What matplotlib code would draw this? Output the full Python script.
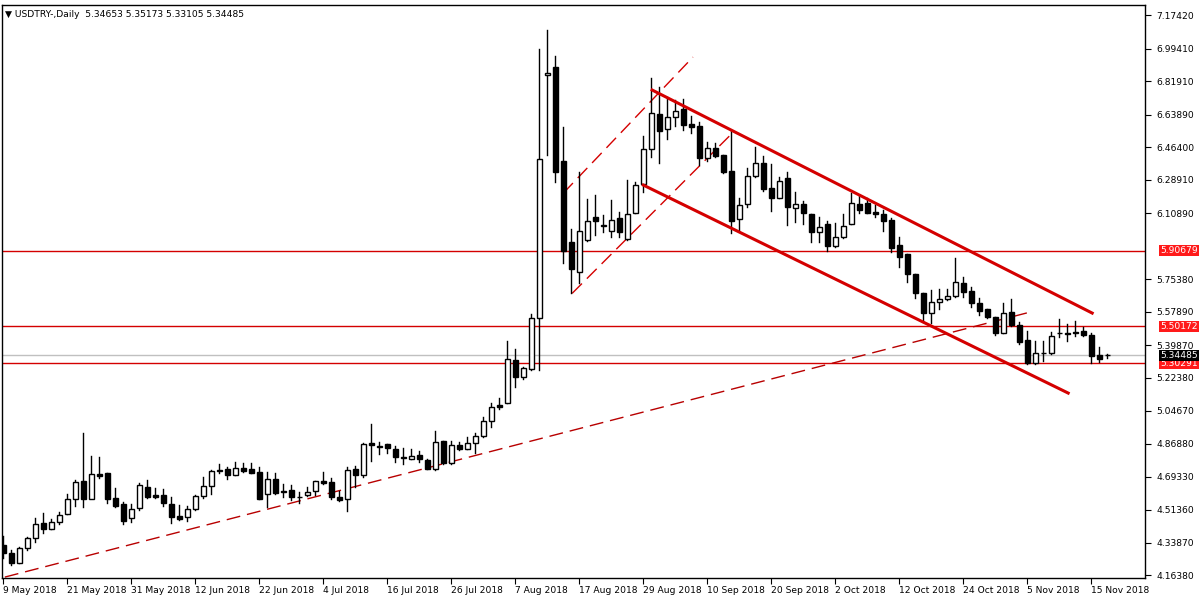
import matplotlib
matplotlib.use("Agg")
import matplotlib.pyplot as plt
import pandas as pd
from matplotlib.patches import Rectangle

opens = [4.325,4.280,4.226,4.307,4.361,4.441,4.409,4.450,4.490,4.571,4.669,4.571,4.707,4.712,4.576,4.544,4.468,4.522,4.639,4.592,
         4.592,4.544,4.481,4.477,4.517,4.590,4.644,4.725,4.732,4.700,4.737,4.732,4.718,4.597,4.678,4.615,4.621,4.581,4.592,4.613,
         4.667,4.664,4.585,4.571,4.734,4.703,4.872,4.853,4.866,4.839,4.793,4.789,4.807,4.780,4.735,4.882,4.768,4.861,4.843,4.875,
         4.911,4.990,5.076,5.087,5.318,5.227,5.273,5.544,6.850,6.893,6.389,5.954,5.791,5.964,6.090,6.042,6.015,6.081,5.968,6.108,
         6.266,6.452,6.640,6.564,6.628,6.671,6.588,6.578,6.404,6.458,6.422,6.336,6.076,6.157,6.309,6.377,6.242,6.192,6.296,6.135,
         6.156,6.103,6.006,6.049,5.933,5.979,6.049,6.158,6.162,6.117,6.105,6.072,5.938,5.889,5.780,5.678,5.574,5.633,5.646,5.664,
         5.735,5.692,5.628,5.592,5.553,5.466,5.580,5.508,5.427,5.305,5.358,5.355,5.465,5.467,5.472,5.475,5.454,5.345,5.34653]
highs = [4.374,4.298,4.316,4.370,4.468,4.495,4.463,4.501,4.597,4.675,4.925,4.804,4.796,4.712,4.630,4.558,4.545,4.657,4.675,4.630,
         4.624,4.581,4.538,4.535,4.594,4.692,4.728,4.759,4.746,4.769,4.764,4.764,4.743,4.718,4.710,4.653,4.648,4.608,4.635,4.669,
         4.719,4.685,4.615,4.746,4.750,4.872,4.976,4.877,4.866,4.857,4.845,4.839,4.832,4.788,4.938,4.882,4.882,4.879,4.904,4.925,
         5.015,5.090,5.115,5.422,5.379,5.280,5.567,6.990,7.094,6.954,6.570,6.022,6.332,6.183,6.207,6.099,6.180,6.117,6.287,6.275,
         6.524,6.834,6.789,6.732,6.717,6.721,6.631,6.601,6.493,6.484,6.422,6.556,6.189,6.350,6.466,6.416,6.373,6.302,6.329,6.221,
         6.174,6.103,6.090,6.069,6.054,6.105,6.219,6.207,6.189,6.153,6.126,6.081,5.983,5.889,5.780,5.678,5.696,5.699,5.699,5.866,
         5.768,5.714,5.651,5.592,5.553,5.624,5.646,5.526,5.476,5.422,5.422,5.472,5.538,5.513,5.527,5.499,5.466,5.388,5.35173]
lows = [4.253,4.217,4.226,4.298,4.343,4.388,4.409,4.438,4.490,4.535,4.531,4.585,4.683,4.549,4.531,4.438,4.450,4.513,4.576,4.576,
        4.535,4.445,4.459,4.456,4.513,4.576,4.599,4.710,4.678,4.700,4.719,4.714,4.571,4.531,4.599,4.585,4.567,4.553,4.589,4.594,
        4.653,4.571,4.563,4.506,4.639,4.693,4.778,4.814,4.818,4.773,4.760,4.786,4.770,4.732,4.728,4.760,4.760,4.836,4.843,4.821,
        4.904,4.958,5.054,5.087,5.176,5.216,5.266,5.266,6.422,6.278,5.843,5.678,5.732,5.961,5.992,6.010,5.979,5.979,5.964,6.108,
        6.225,6.413,6.377,6.506,6.577,6.556,6.538,6.368,6.391,6.413,6.327,6.004,6.015,6.144,6.305,6.230,6.122,6.192,6.045,6.063,
        6.051,5.956,5.956,5.907,5.929,5.974,6.049,6.108,6.108,6.087,6.015,5.902,5.821,5.741,5.651,5.526,5.517,5.592,5.642,5.660,
        5.657,5.606,5.561,5.544,5.454,5.463,5.502,5.406,5.296,5.296,5.316,5.352,5.445,5.424,5.449,5.449,5.305,5.311,5.33105]
closes = [4.280,4.226,4.307,4.361,4.436,4.409,4.450,4.486,4.571,4.664,4.571,4.705,4.696,4.574,4.535,4.456,4.517,4.646,4.585,4.585,
          4.549,4.477,4.467,4.517,4.590,4.644,4.723,4.727,4.700,4.737,4.723,4.714,4.571,4.678,4.606,4.608,4.581,4.583,4.610,4.667,
          4.660,4.585,4.567,4.726,4.703,4.868,4.861,4.854,4.845,4.800,4.795,4.802,4.789,4.732,4.881,4.768,4.861,4.843,4.875,4.911,
          4.990,5.065,5.069,5.323,5.227,5.275,5.544,6.398,6.862,6.332,5.907,5.807,6.011,6.065,6.065,6.045,6.072,6.006,6.103,6.260,
          6.452,6.646,6.552,6.624,6.658,6.585,6.574,6.404,6.458,6.416,6.332,6.069,6.151,6.309,6.380,6.237,6.192,6.284,6.144,6.156,
          6.108,6.006,6.033,5.933,5.979,6.042,6.162,6.126,6.108,6.103,6.069,5.920,5.872,5.780,5.682,5.574,5.633,5.646,5.664,5.741,
          5.687,5.628,5.585,5.553,5.463,5.574,5.508,5.418,5.305,5.355,5.357,5.450,5.463,5.458,5.463,5.454,5.341,5.327,5.34485]

dates = pd.bdate_range("2018-05-09", periods=len(closes))
hlines = [5.90679, 5.50172, 5.30291]
current = 5.34485
yticks = [7.17420, 6.99410, 6.81910, 6.63890, 6.46400, 6.28910, 6.10890, 5.75380, 5.57890,
          5.39870, 5.22380, 5.04670, 4.86880, 4.69330, 4.51360, 4.33870, 4.16380]
# trend lines: (candle index, price) endpoints
trend_long = [(0.2, 4.153), (128.4, 5.578)]
chan_upper = [(81.1, 6.771), (136.1, 5.572)]
chan_lower = [(80.0, 6.260), (133.1, 5.142)]
dash_upper = [(70.0, 6.217), (86.2, 6.948)]
dash_lower = [(71.1, 5.678), (91.25, 6.545)]

FS = 6.6
fig = plt.figure(figsize=(12, 6), dpi=100)
ax = fig.add_axes([2/1200, 22/600, 1143/1200, 573/600])
ax.set_xlim(-0.16, 142.7)
ax.set_ylim(4.148, 7.228)

red = "#d40000"
for h in hlines:
    ax.axhline(h, color=red, lw=1, zorder=1)
ax.axhline(current, color="#c0c0c0", lw=1, zorder=0.5)

def seg(pts, **kw):
    ax.plot([p[0] for p in pts], [p[1] for p in pts], **kw)

seg(trend_long, color="#b80000", lw=1, dashes=(10, 5), zorder=1)
seg(dash_upper, color=red, lw=1, dashes=(10, 5), zorder=1)
seg(dash_lower, color=red, lw=1, dashes=(10, 5), zorder=1)
seg(chan_upper, color=red, lw=2.2, zorder=3)
seg(chan_lower, color=red, lw=2.2, zorder=3)

w = 0.62
for i, (o, h, l, c) in enumerate(zip(opens, highs, lows, closes)):
    ax.plot([i, i], [l, h], color="black", lw=1, zorder=2)
    bot, top = min(o, c), max(o, c)
    ax.add_patch(Rectangle((i - w/2, bot), w, max(top - bot, 0.003),
                           facecolor="white" if c >= o else "black",
                           edgecolor="black", lw=1, zorder=2.5))

ax.yaxis.tick_right()
ax.set_yticks(yticks)
ax.set_yticklabels([f"{v:.5f}" for v in yticks], fontsize=FS)
ax.tick_params(axis="y", length=4, pad=4)
idx = list(range(0, len(dates), 8))
ax.set_xticks(idx)
ax.set_xticklabels([f"{dates[i].day} {dates[i].strftime('%b %Y')}" for i in idx],
                   fontsize=FS, ha="left")
ax.tick_params(axis="x", length=4, pad=2)

for h in hlines:
    ax.annotate(f"{h:.5f}", xy=(1.0, h), xycoords=("axes fraction", "data"),
                xytext=(11, 0), textcoords="offset points", va="center", ha="left",
                fontsize=FS, color="white",
                bbox=dict(boxstyle="square,pad=0.1", fc="#ff1a1a", ec="none"))
ax.annotate(f"{current:.5f}", xy=(1.0, current), xycoords=("axes fraction", "data"),
            xytext=(11, 0), textcoords="offset points", va="center", ha="left",
            fontsize=FS, color="white",
            bbox=dict(boxstyle="square,pad=0.1", fc="black", ec="none"))

ax.text(0.003, 0.992, "▼ USDTRY-,Daily  5.34653 5.35173 5.33105 5.34485",
        transform=ax.transAxes, fontsize=FS, va="top", ha="left")

for s in ax.spines.values():
    s.set_linewidth(1)
fig.savefig("out.png", dpi=100)
